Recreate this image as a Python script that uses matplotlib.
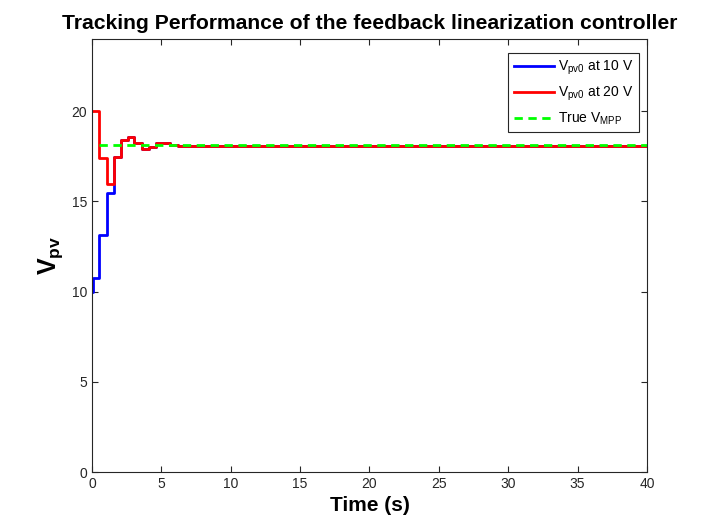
import matplotlib
matplotlib.use("Agg")
import matplotlib.pyplot as plt
import numpy as np

plt.rcParams['font.family'] = ['Liberation Sans', 'DejaVu Sans']
plt.rcParams['mathtext.fontset'] = 'custom'
plt.rcParams['mathtext.rm'] = 'Liberation Sans'
plt.rcParams['mathtext.bf'] = 'Liberation Sans:bold'

# step change times (s) and held values
t_blue = [0.0, 0.08, 0.53, 1.06, 1.58, 2.07, 2.6, 3.05, 3.58, 4.1, 4.6, 5.1, 5.65, 6.2, 6.7, 40.0]
v_blue = [10.0, 10.77, 13.13, 15.44, 17.47, 18.43, 18.58, 18.21, 17.93, 18.02, 18.21, 18.25, 18.15, 18.05, 18.08, 18.08]

t_red = [0.0, 0.53, 1.06, 1.58, 2.07, 2.6, 3.05, 3.58, 4.1, 4.6, 5.1, 5.65, 6.2, 6.7, 40.0]
v_red = [20.0, 17.38, 15.94, 17.47, 18.43, 18.58, 18.21, 17.93, 18.02, 18.21, 18.25, 18.15, 18.05, 18.08, 18.08]

t_mpp = [0.5, 40.0]
v_mpp = [18.1, 18.1]

axcol = '#262626'
fig = plt.figure(figsize=(7.16, 5.30), dpi=100)
ax = fig.add_axes([0.1285, 0.1094, 0.775, 0.817])

ax.step(t_blue, v_blue, where='post', color='#0000ff', lw=2, label=r'V$_{\mathrm{pv0}}$ at 10 V')
ax.step(t_red, v_red, where='post', color='#ff0000', lw=2, label=r'V$_{\mathrm{pv0}}$ at 20 V')
ax.plot(t_mpp, v_mpp, color='#00ff00', lw=2, ls=(0, (3, 2)), label=r'True V$_{\mathrm{MPP}}$')

ax.set_xlim(0, 40)
ax.set_ylim(0, 24)
ax.set_xticks(np.arange(0, 41, 5))
ax.set_yticks([0, 5, 10, 15, 20])
ax.tick_params(direction='in', length=4, labelsize=10, top=True, right=True,
               labeltop=False, labelright=False, colors=axcol)
for s in ax.spines.values():
    s.set_linewidth(0.8)
    s.set_color(axcol)

ax.set_title('Tracking Performance of the feedback linearization controller', fontsize=15.2, fontweight='bold', pad=7)
ax.set_xlabel('Time (s)', fontsize=15, fontweight='bold', labelpad=4)
ax.set_ylabel(r'V$_{\mathbf{pv}}$', fontsize=18, fontweight='bold', labelpad=5)

leg = ax.legend(loc='upper right', bbox_to_anchor=(0.9856, 0.9677), borderaxespad=0,
                fontsize=10, frameon=True, fancybox=False, edgecolor=axcol,
                framealpha=1, handlelength=2.9, handletextpad=0.3, labelspacing=0.55,
                borderpad=0.4)
leg.get_frame().set_linewidth(0.8)

fig.savefig('out.png', dpi=100)
